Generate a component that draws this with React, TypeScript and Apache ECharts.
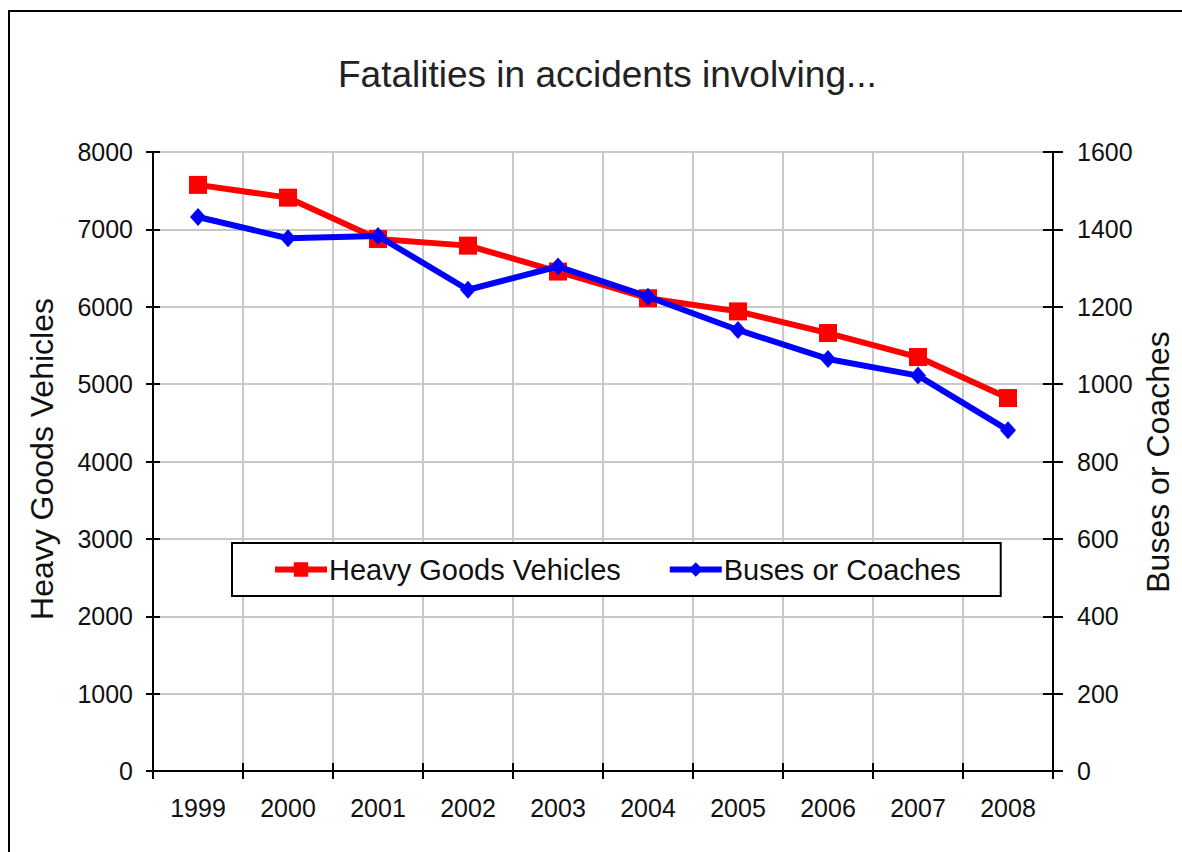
import React, { useEffect, useRef } from "react";
import * as echarts from "echarts";

const years = ["1999", "2000", "2001", "2002", "2003", "2004", "2005", "2006", "2007", "2008"];
const hgvValues = [7575, 7410, 6875, 6790, 6455, 6110, 5940, 5660, 5350, 4820];
const busValues = [1432, 1377, 1383, 1244, 1304, 1226, 1140, 1065, 1022, 881];
const titleText = "Fatalities in accidents involving...";
const leftAxisName = "Heavy Goods Vehicles";
const rightAxisName = "Buses or Coaches";

const FONT = "'Liberation Sans', Arial, sans-serif";

export default function App() {
  const ref = useRef<HTMLDivElement>(null);
  useEffect(() => {
    document.body.style.margin = "0";
    document.body.style.overflow = "hidden";
    const chart = echarts.init(ref.current!, null, { renderer: "svg" });
    const grid = { left: 153, right: 129, top: 152, height: 619 };
    const labelStyle = { fontFamily: FONT, fontSize: 25, color: "#111", formatter: (v: any) => String(v) };
    chart.setOption({
      animation: false,
      backgroundColor: "#ffffff",
      textStyle: { fontFamily: FONT },
      title: {
        text: titleText,
        left: 338,
        top: 56,
        padding: 0,
        textStyle: { fontFamily: FONT, fontSize: 37, fontWeight: "normal", color: "#222" },
      },
      graphic: [
        {
          type: "rect",
          shape: { x: 9, y: 11, width: 1300, height: 1000 },
          style: { fill: "none", stroke: "#000", lineWidth: 2 },
          z: 100,
        },
        {
          type: "text",
          x: 42,
          y: 459,
          rotation: Math.PI / 2,
          style: { text: leftAxisName, fontFamily: FONT, fontSize: 32, fill: "#111", align: "center", verticalAlign: "middle" },
        },
        {
          type: "text",
          x: 1158,
          y: 462,
          rotation: Math.PI / 2,
          style: { text: rightAxisName, fontFamily: FONT, fontSize: 32, fill: "#111", align: "center", verticalAlign: "middle" },
        },
      ],
      legend: {
        left: 232,
        top: 543,
        orient: "horizontal",
        padding: [12, 40, 12, 40],
        itemGap: 46,
        itemWidth: 52,
        itemHeight: 18,
        borderColor: "#000",
        borderWidth: 2,
        backgroundColor: "#fff",
        lineStyle: { width: 6 },
        textStyle: { fontFamily: FONT, fontSize: 29, color: "#111", padding: [0, 0, 0, -3] },
        data: [leftAxisName, rightAxisName],
        z: 10,
      },
      grid,
      xAxis: [
        {
          type: "category",
          data: years,
          position: "bottom",
          boundaryGap: true,
          axisLine: { lineStyle: { color: "#000", width: 2 } },
          axisTick: { show: true, length: 8, inside: false, lineStyle: { color: "#000", width: 2 } },
          axisLabel: { ...labelStyle, margin: 24 },
          splitLine: { show: true, lineStyle: { color: "#c8c8c8", width: 2 } },
        },
        {
          type: "category",
          data: years,
          position: "bottom",
          boundaryGap: true,
          axisLine: { show: false },
          axisTick: { show: true, length: 8, inside: true, lineStyle: { color: "#000", width: 2 } },
          axisLabel: { show: false },
          splitLine: { show: false },
        },
      ],
      yAxis: [
        {
          type: "value",
          position: "left",
          min: 0,
          max: 8000,
          interval: 1000,
          axisLine: { show: true, lineStyle: { color: "#000", width: 2 } },
          axisTick: { show: true, length: 7, lineStyle: { color: "#000", width: 2 } },
          axisLabel: { ...labelStyle, margin: 20 },
          splitLine: { show: true, lineStyle: { color: "#c8c8c8", width: 2 } },
        },
        {
          type: "value",
          position: "right",
          min: 0,
          max: 1600,
          interval: 200,
          axisLine: { show: true, lineStyle: { color: "#000", width: 2 } },
          axisTick: { show: true, length: 10, lineStyle: { color: "#000", width: 2 } },
          axisLabel: { ...labelStyle, margin: 24 },
          splitLine: { show: false },
        },
        {
          type: "value",
          position: "left",
          min: 0,
          max: 8000,
          interval: 1000,
          axisLine: { show: false },
          axisTick: { show: true, inside: true, length: 7, lineStyle: { color: "#000", width: 2 } },
          axisLabel: { show: false },
          splitLine: { show: false },
        },
        {
          type: "value",
          position: "right",
          min: 0,
          max: 1600,
          interval: 200,
          axisLine: { show: false },
          axisTick: { show: true, inside: true, length: 10, lineStyle: { color: "#000", width: 2 } },
          axisLabel: { show: false },
          splitLine: { show: false },
        },
      ],
      series: [
        {
          name: leftAxisName,
          type: "line",
          xAxisIndex: 0,
          yAxisIndex: 0,
          data: hgvValues,
          symbol: "rect",
          symbolSize: 18,
          lineStyle: { color: "#ff0000", width: 6 },
          itemStyle: { color: "#ff0000" },
          z: 3,
        },
        {
          name: rightAxisName,
          type: "line",
          xAxisIndex: 0,
          yAxisIndex: 1,
          data: busValues,
          symbol: "diamond",
          symbolSize: [16, 18],
          lineStyle: { color: "#0000ff", width: 6 },
          itemStyle: { color: "#0000ff" },
          z: 4,
        },
      ],
    });
    return () => chart.dispose();
  }, []);
  return <div ref={ref} style={{ width: 1182, height: 852 }} />;
}
